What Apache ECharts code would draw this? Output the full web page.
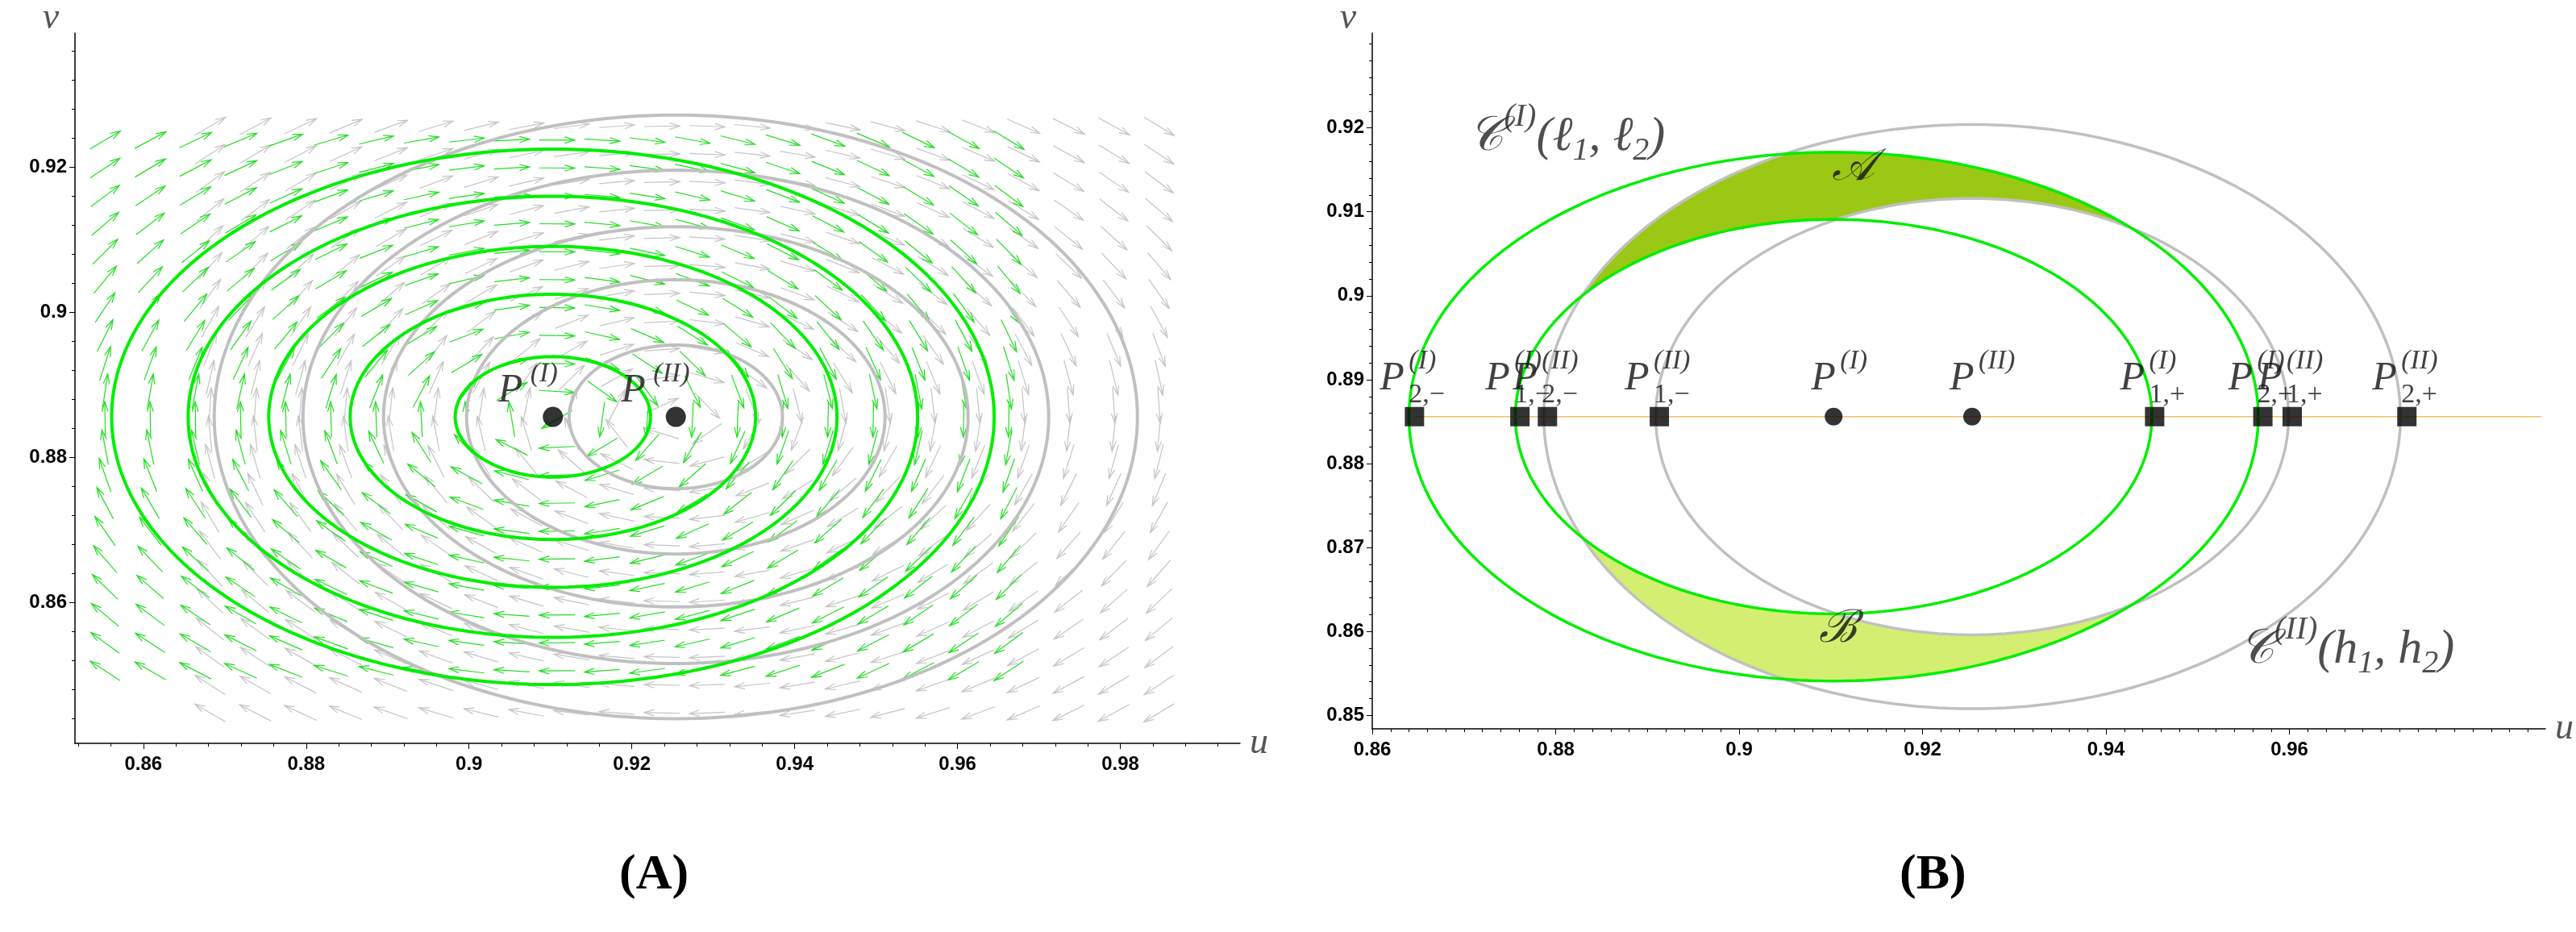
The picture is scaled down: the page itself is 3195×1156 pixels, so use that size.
<!DOCTYPE html>
<html><head><meta charset="utf-8">
<script src="https://cdn.jsdelivr.net/npm/echarts@6.0.0/dist/echarts.min.js"></script>
<style>html,body{margin:0;padding:0;background:#fff}#main{width:3195px;height:1156px}</style>
</head><body><div id="main"></div>
<script>
// fixed points
const centerI = [0.9103, 0.8856]
const centerII = [0.9254, 0.8856]

// panel A: orbits [a, b] around each centre
const orbitsGreenA = [[0.012, 0.0083], [0.0249, 0.0169], [0.0349, 0.0235], [0.0448, 0.0304], [0.0542, 0.0369]]
const orbitsGrayA = [[0.0131, 0.0099], [0.0257, 0.0189], [0.0359, 0.0262], [0.0458, 0.034], [0.0567, 0.0416]]

// panel B: the two curves of each family [a, b]
const curvesGreenB = [[0.0347, 0.0235], [0.0463, 0.0315]]
const curvesGrayB = [[0.0345, 0.026], [0.0467, 0.0348]]

// P points on the line r
const pU = [0.8646, 0.8761, 0.8791, 0.8913, 0.9453, 0.9571, 0.9603, 0.9728]
const pSup = ["(I)", "(I)", "(II)", "(II)", "(I)", "(I)", "(II)", "(II)"]
const pSub = ["2,\u2212", "1,\u2212", "2,\u2212", "1,\u2212", "1,+", "2,+", "1,+", "2,+"]
const centreSup = ["(I)", "(II)"]
const rLine = [[0.8646, 0.8856], [0.9875, 0.8856]]

// direction field grids [uMin, uMax, du, vMin, vMax, dv]
const fieldGreen = [0.8553, 0.9665, 0.00555, 0.8506, 0.9238, 0.00385]
const fieldGray = [0.8682, 0.9848, 0.00555, 0.8448, 0.9293, 0.00385]

// ticks
const xTicksA = [0.86, 0.88, 0.9, 0.92, 0.94, 0.96, 0.98]
const yTicksA = [0.86, 0.88, 0.9, 0.92]
const xTicksB = [0.86, 0.88, 0.9, 0.92, 0.94, 0.96]
const yTicksB = [0.85, 0.86, 0.87, 0.88, 0.89, 0.9, 0.91, 0.92]

function range(a, b, s) { const r = []; for (let x = a; x <= b + 1e-9; x += s) r.push(+x.toFixed(5)); return r }
function ellipse(c, a, b) {
  const pts = []
  for (let i = 0; i <= 240; i++) { const t = i / 240 * 2 * Math.PI; pts.push([c[0] + a * Math.cos(t), c[1] + b * Math.sin(t)]) }
  return pts
}
function half(c, e, u) { const q = (u - c[0]) / e[0]; return q * q < 1 ? e[1] * Math.sqrt(1 - q * q) : NaN }
function lens(top) {
  const upper = [], lower = []
  const s = top ? 1 : -1
  for (let u = 0.86; u <= 0.99; u += 0.0002) {
    const o1 = half(centerI, curvesGreenB[1], u), o2 = half(centerII, curvesGrayB[1], u)
    const i1 = half(centerI, curvesGreenB[0], u), i2 = half(centerII, curvesGrayB[0], u)
    if (isNaN(o1) || isNaN(o2) || (isNaN(i1) && isNaN(i2))) continue
    const outer = Math.min(o1, o2)
    const inner = Math.max(isNaN(i1) ? -1 : i1, isNaN(i2) ? -1 : i2)
    if (outer > inner) { upper.push([u, centerI[1] + s * outer]); lower.push([u, centerI[1] + s * inner]) }
  }
  return upper.concat(lower.reverse())
}
function fieldData(g) {
  const d = []
  range(g[0], g[1], g[2]).forEach(u => range(g[3], g[4], g[5]).forEach(v => d.push([u, v])))
  return d
}
function fieldSeries(g, c, color) {
  return {
    type: 'custom', xAxisIndex: 0, yAxisIndex: 0, data: fieldData(g), silent: true, z: 1,
    renderItem(params, api) {
      const u = api.value(0), v = api.value(1)
      const du = u - c[0], dv = v - c[1]
      const tu = dv / 1.0, tv = -du / 2.16
      const n = Math.hypot(tu, tv) || 1
      const p0 = api.coord([u, v]), p1 = api.coord([u + tu / n * 0.001, v + tv / n * 0.001])
      let dx = p1[0] - p0[0], dy = p1[1] - p0[1]; const m = Math.hypot(dx, dy) || 1; dx /= m; dy /= m
      const L = 22, tail = [p0[0] - dx * L, p0[1] - dy * L], tip = [p0[0] + dx * L, p0[1] + dy * L]
      const ang = 0.3, h = 13
      const h1 = [tip[0] - h * (dx * Math.cos(ang) - dy * Math.sin(ang)), tip[1] - h * (dy * Math.cos(ang) + dx * Math.sin(ang))]
      const h2 = [tip[0] - h * (dx * Math.cos(ang) + dy * Math.sin(ang)), tip[1] - h * (dy * Math.cos(ang) - dx * Math.sin(ang))]
      const st = { stroke: color, lineWidth: 1.2, fill: null }
      return { type: 'group', children: [
        { type: 'polyline', shape: { points: [tail, tip] }, style: st },
        { type: 'polyline', shape: { points: [h1, tip, h2] }, style: st }] }
    }
  }
}
function lineSeries(pts, color, w, xi) {
  return { type: 'line', xAxisIndex: xi, yAxisIndex: xi, data: pts, showSymbol: false, silent: true, z: 3,
    lineStyle: { color: color, width: w }, animation: false }
}
function polySeries(pts, color) {
  return { type: 'custom', xAxisIndex: 2, yAxisIndex: 2, data: [[0]], silent: true, z: 2,
    renderItem(params, api) {
      return { type: 'polygon', shape: { points: pts.map(p => api.coord(p)) }, style: { fill: color } }
    } }
}

const serif = 'Liberation Serif'
// text-only label layer on points
function textSeries(xi, pts, texts, pos, size, italic) {
  return { type: 'scatter', xAxisIndex: xi, yAxisIndex: xi, data: pts, symbolSize: 0, silent: true, z: 8,
    label: { show: true, position: pos, formatter: p => texts[p.dataIndex], fontFamily: serif,
      fontStyle: italic ? 'italic' : 'normal', fontSize: size, lineHeight: size, color: '#111' } }
}

const richBig = {
  big: { fontFamily: serif, fontStyle: 'italic', fontSize: 60, color: '#222', lineHeight: 74, verticalAlign: 'bottom' },
  bsup: { fontFamily: serif, fontStyle: 'italic', fontSize: 40, color: '#222', lineHeight: 74, verticalAlign: 'top' },
  bsub: { fontFamily: serif, fontSize: 40, color: '#222', lineHeight: 74, verticalAlign: 'bottom', padding: [0, 0, -8, 0] }
}

function axisPair(kind, gi, min, max, ticks, minor, nameTxt) {
  const lab = { show: true, customValues: ticks, fontFamily: 'Liberation Sans', fontWeight: 'bold', fontSize: 24, color: '#000',
    formatter: v => String(+v.toFixed(3)) }
  const major = {
    gridIndex: gi, type: 'value', min, max, splitLine: { show: false }, position: kind === 'x' ? 'bottom' : 'left',
    axisLine: { show: true, onZero: false, lineStyle: { color: '#000', width: 1.5 } },
    axisTick: { show: true, customValues: ticks, length: 7, lineStyle: { color: '#000' } },
    axisLabel: lab, name: nameTxt,
    nameTextStyle: { fontFamily: serif, fontStyle: 'italic', fontSize: 46, color: '#555' }
  }
  if (kind === 'x') { major.nameLocation = 'end'; major.nameGap = 12; lab.margin = 14 } else { major.nameLocation = 'end'; major.nameGap = -5; lab.margin = 10 }
  const m = {
    gridIndex: gi, type: 'value', min, max, splitLine: { show: false }, position: kind === 'x' ? 'bottom' : 'left',
    axisLine: { show: false, onZero: false }, axisLabel: { show: false },
    axisTick: { show: true, customValues: range(min + ((minor - (min % minor)) % minor), max, minor), length: 4, lineStyle: { color: '#000' } }
  }
  return [major, m]
}

const [xa0, xa1] = axisPair('x', 0, 0.8516, 0.9947, xTicksA, 0.004, 'u')
const [ya0, ya1] = axisPair('y', 0, 0.8406, 0.9385, yTicksA, 0.004, 'v')
const [xb0, xb1] = axisPair('x', 1, 0.86, 0.9879, xTicksB, 0.002, 'u')
const [yb0, yb1] = axisPair('y', 1, 0.8484, 0.9313, yTicksB, 0.002, 'v')
ya0.nameTextStyle.padding = [0, 60, 0, 0]
yb0.nameTextStyle.padding = [0, 60, 0, 0]

const pPts = pU.map(u => [u, centerI[1]])
const centres = [centerI, centerII]
const series = [
  fieldSeries(fieldGray, centerII, '#c4c4c4'),
  fieldSeries(fieldGreen, centerI, '#22dd22'),
  ...orbitsGrayA.map(e => lineSeries(ellipse(centerII, e[0], e[1]), '#c0c0c0', 4, 0)),
  ...orbitsGreenA.map(e => lineSeries(ellipse(centerI, e[0], e[1]), '#00ee00', 4, 0)),
  { type: 'scatter', xAxisIndex: 0, yAxisIndex: 0, data: centres, symbol: 'circle', symbolSize: 25, z: 5,
    itemStyle: { color: '#000' }, silent: true },
  textSeries(0, centres, ['P', 'P'], [-68, -57], 50, true),
  textSeries(0, centres, centreSup, [-28, -70], 34, true),
  polySeries(lens(true), '#9bc814'),
  polySeries(lens(false), '#d3ee70'),
  ...curvesGrayB.map(e => lineSeries(ellipse(centerII, e[0], e[1]), '#c0c0c0', 3.5, 2)),
  ...curvesGreenB.map(e => lineSeries(ellipse(centerI, e[0], e[1]), '#00ee00', 3.5, 2)),
  { type: 'line', xAxisIndex: 2, yAxisIndex: 2, data: rLine, showSymbol: false, silent: true, z: 4,
    lineStyle: { color: '#f5c060', width: 1.5 },
    endLabel: { show: true, formatter: 'r', offset: [70, 28], fontFamily: serif, fontStyle: 'italic', fontSize: 38, color: '#333' } },
  { type: 'scatter', xAxisIndex: 2, yAxisIndex: 2, data: pPts, symbol: 'rect', symbolSize: 24, z: 6,
    itemStyle: { color: '#000' }, silent: true },
  textSeries(2, pPts, pU.map(() => 'P'), [-43, -72], 50, true),
  textSeries(2, pPts, pSup, [-7, -86], 34, true),
  textSeries(2, pPts, pSub, [-7, -44], 34, false),
  { type: 'scatter', xAxisIndex: 2, yAxisIndex: 2, data: centres, symbol: 'circle', symbolSize: 22, z: 6,
    itemStyle: { color: '#000' }, silent: true },
  textSeries(2, centres, ['P', 'P'], [-28, -72], 50, true),
  textSeries(2, centres, centreSup, [8, -86], 34, true),
  { type: 'scatter', xAxisIndex: 2, yAxisIndex: 2, symbolSize: 0, silent: true, z: 7,
    data: [[0.8705, 0.9195], [0.9101, 0.9143], [0.9087, 0.8592], [0.9545, 0.8584]],
    label: { show: true, position: [0, -38], fontFamily: serif, fontStyle: 'italic', fontSize: 56, color: '#111', rich: richBig,
      formatter: p => ['{big|\uD835\uDC9E}{bsup|(I)}{big|(\u2113}{bsub|1}{big|, \u2113}{bsub|2}{big|)}', '\uD835\uDC9C', '\u212C',
        '{big|\uD835\uDC9E}{bsup|(II)}{big|(h}{bsub|1}{big|, h}{bsub|2}{big|)}'][p.dataIndex] } }
]

const chart = echarts.init(document.getElementById('main'))
chart.setOption({
  animation: false,
  grid: [{ left: 93, top: 16, width: 1445, height: 906 }, { left: 1702, top: 22, width: 1467, height: 882 }],
  xAxis: [xa0, xa1, xb0, xb1],
  yAxis: [ya0, ya1, yb0, yb1],
  series,
  graphic: [
    { type: 'text', left: 768, top: 1055, style: { text: '(A)', fontFamily: serif, fontWeight: 'bold', fontSize: 62, fill: '#000' } },
    { type: 'text', left: 2356, top: 1055, style: { text: '(B)', fontFamily: serif, fontWeight: 'bold', fontSize: 62, fill: '#000' } }
  ]
})
</script></body></html>
